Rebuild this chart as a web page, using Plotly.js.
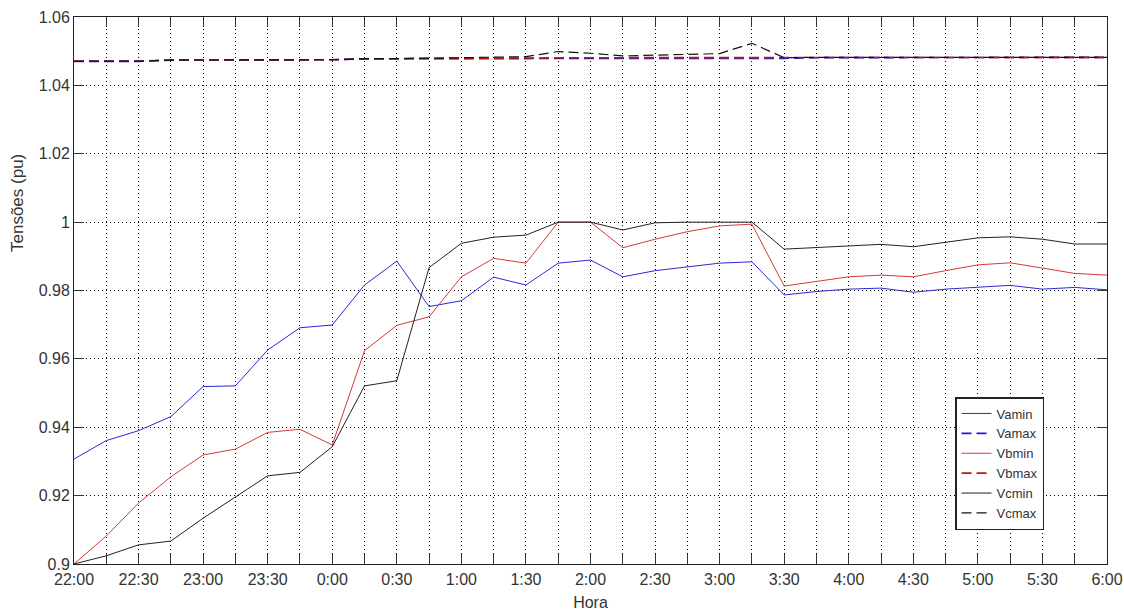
<!DOCTYPE html>
<html>
<head>
<meta charset="utf-8">
<script src="https://cdn.plot.ly/plotly-3.0.1.min.js"></script>
<style>html,body{margin:0;padding:0;background:#fff;}#chart{width:1124px;height:612px;}</style>
</head>
<body>
<div id="chart"></div>
<script>
// Time categories (every 15 minutes, 22:00 -> 6:00)
const times = ["22:00","22:15","22:30","22:45","23:00","23:15","23:30","23:45",
  "0:00","0:15","0:30","0:45","1:00","1:15","1:30","1:45",
  "2:00","2:15","2:30","2:45","3:00","3:15","3:30","3:45",
  "4:00","4:15","4:30","4:45","5:00","5:15","5:30","5:45","6:00"];
// Tick labels shown (every 30 minutes)
const tickLabels = ["22:00","","22:30","","23:00","","23:30","",
  "0:00","","0:30","","1:00","","1:30","",
  "2:00","","2:30","","3:00","","3:30","",
  "4:00","","4:30","","5:00","","5:30","","6:00"];
const yTicks = [0.9,0.92,0.94,0.96,0.98,1,1.02,1.04,1.06];
const yTickLabels = ["0.9","0.92","0.94","0.96","0.98","1","1.02","1.04","1.06"];

const Vamin = [0.9307,0.9361,0.9390,0.9431,0.9519,0.9521,0.9626,0.9691,
  0.9699,0.9816,0.9886,0.9753,0.9770,0.9839,0.9816,0.9880,
  0.9889,0.9840,0.9858,0.9868,0.9880,0.9884,0.9787,0.9797,
  0.9804,0.9807,0.9795,0.9804,0.9809,0.9815,0.9804,0.9809,0.9802];
const Vamax = [1.0470,1.0470,1.0470,1.0474,1.0474,1.0474,1.0474,1.0474,
  1.0475,1.0478,1.0478,1.0478,1.0478,1.0479,1.0480,1.0480,
  1.0480,1.0480,1.0480,1.0480,1.0480,1.0480,1.0479,1.0481,
  1.0481,1.0481,1.0481,1.0481,1.0481,1.0481,1.0481,1.0481,1.0482];
const Vbmax = [1.0471,1.0471,1.0471,1.0474,1.0474,1.0474,1.0474,1.0474,
  1.0475,1.0477,1.0479,1.0479,1.0479,1.0480,1.0481,1.0481,
  1.0481,1.0481,1.0481,1.0481,1.0481,1.0481,1.0481,1.0482,
  1.0482,1.0482,1.0482,1.0482,1.0482,1.0482,1.0482,1.0482,1.0482];
const Vbmin = [0.9000,0.9082,0.9178,0.9255,0.9319,0.9336,0.9385,0.9394,
  0.9348,0.9624,0.9698,0.9723,0.9840,0.9894,0.9880,1.0000,
  1.0000,0.9925,0.9950,0.9972,0.9989,0.9994,0.9813,0.9826,
  0.9840,0.9845,0.9840,0.9858,0.9875,0.9881,0.9865,0.9850,0.9845];
const Vcmin = [0.9000,0.9024,0.9056,0.9067,0.9134,0.9197,0.9258,0.9268,
  0.9343,0.9521,0.9536,0.9867,0.9938,0.9956,0.9962,1.0000,
  1.0000,0.9977,0.9998,1.0000,1.0000,1.0000,0.9921,0.9925,
  0.9931,0.9935,0.9928,0.9942,0.9954,0.9957,0.9950,0.9936,0.9936];
const Vcmax = [1.0471,1.0471,1.0471,1.0474,1.0474,1.0474,1.0474,1.0474,
  1.0475,1.0478,1.0478,1.0479,1.0481,1.0482,1.0484,1.0499,
  1.0494,1.0486,1.0488,1.0492,1.0493,1.0523,1.0481,1.0482,
  1.0482,1.0482,1.0482,1.0482,1.0482,1.0482,1.0482,1.0482,1.0482];

const names = ["Vamin","Vamax","Vbmin","Vbmax","Vcmin","Vcmax"];
const series = [Vamin,Vamax,Vbmin,Vbmax,Vcmin,Vcmax];
const colors = ["#2828d8","#1a1ad8","#d83838","#b81818","#222222","#111111"];
const dashes = ["solid","10px,5px","solid","10px,5px","solid","10px,5px"];
const widths = [1,1.6,1,1.6,1,1.2];

const traces = series.map((ys,i)=>({
  x: times, y: ys, type:"scatter", mode:"lines", name:names[i],
  line:{color:colors[i], width:widths[i], dash:dashes[i]}
}));

const font = "Liberation Sans, Arial, sans-serif";
const layout = {
  width:1124, height:612,
  margin:{l:74, r:17, t:17, b:48},
  paper_bgcolor:"#fff", plot_bgcolor:"#fff",
  showlegend:true,
  font:{family:font, size:16, color:"#333"},
  xaxis:{
    type:"category", range:[0,32],
    tickmode:"array", tickvals:times, ticktext:tickLabels,
    ticks:"inside", ticklen:10, tickcolor:"#333", tickwidth:1,
    showline:true, linecolor:"#222", linewidth:1, mirror:"ticks",
    showgrid:true, gridcolor:"#000", gridwidth:1, griddash:"1px,3px",
    zeroline:false, ticklabelstandoff:1,
    tickfont:{family:font,size:16,color:"#333"},
    title:{text:"Hora", font:{family:font,size:16,color:"#333"}, standoff:9}
  },
  yaxis:{
    range:[0.9,1.06], tickmode:"array", tickvals:yTicks, ticktext:yTickLabels,
    ticks:"inside", ticklen:10, tickcolor:"#333", tickwidth:1,
    showline:true, linecolor:"#222", linewidth:1, mirror:"ticks",
    showgrid:true, gridcolor:"#000", gridwidth:1, griddash:"1px,3px",
    zeroline:false, tickfont:{family:font,size:16,color:"#333"}
  },
  annotations:[{
    text:"Tensões (pu)", textangle:-90, xref:"paper", yref:"paper",
    x:-0.0542, y:0.66, xanchor:"center", yanchor:"middle", showarrow:false,
    font:{family:font,size:17,color:"#333"}
  }],
  legend:{
    x:0.8529, y:0.3053, xanchor:"left", yanchor:"top",
    bgcolor:"#fff", bordercolor:"#222", borderwidth:1.5,
    font:{family:font,size:13,color:"#333"},
    itemwidth:30, tracegroupgap:0
  }
};
Plotly.newPlot("chart", traces, layout, {displayModeBar:false, staticPlot:true});
</script>
</body>
</html>
